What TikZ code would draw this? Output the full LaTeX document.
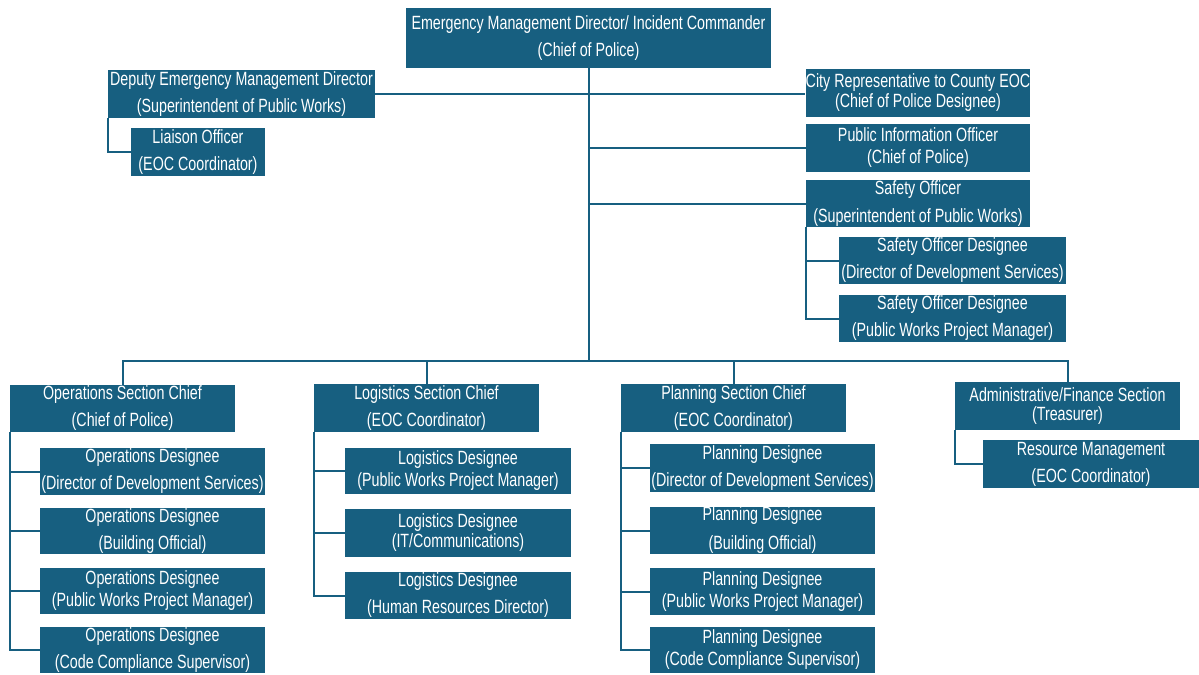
\documentclass[tikz,border=0pt]{standalone}
\usepackage{fontspec}
\setmainfont[FakeStretch=0.745]{Liberation Sans}
\usepackage{xcolor}
\usepackage{tikz}
\usetikzlibrary{positioning,calc}

\definecolor{eocblue}{HTML}{175F80}

\begin{document}
\begin{tikzpicture}[x=0.6pt, y=-0.6pt,
  box/.style 2 args={fill=eocblue, text=white, align=center, inner sep=0pt,
    minimum width=#1*0.6pt, minimum height=#2*0.6pt,
    font=\fontsize{11.5}{12}\selectfont},
  link/.style={draw=eocblue, line width=1.2pt}]
  \useasboundingbox (0,0) rectangle (1199,675);

  % Command staff
  \node[box={365}{60}] (emd) at (588.5,38)
    {Emergency Management Director/ Incident Commander\\[4.2pt](Chief of Police)};
  \node[box={267}{48}] (dep) at (241.5,94)
    {Deputy Emergency Management Director\\[4.2pt](Superintendent of Public Works)};
  \node[box={134}{48}] (lia) at (198,152)
    {Liaison Officer\\[4.2pt](EOC Coordinator)};
  \node[box={224}{48}] (city) at (918,93)
    {City Representative to County EOC\\[0pt](Chief of Police Designee)};
  \node[box={224}{48}] (pio) at (918,148)
    {Public Information Officer\\[1.2pt](Chief of Police)};
  \node[box={224}{47}] (so) at (918,203.5)
    {Safety Officer\\[4.8pt](Superintendent of Public Works)};
  \node[box={227}{47}] (sod1) at (952.5,260.5)
    {Safety Officer Designee\\[4.2pt](Director of Development Services)};
  \node[box={227}{47}] (sod2) at (952.5,318.5)
    {Safety Officer Designee\\[4.2pt](Public Works Project Manager)};

  % Sections
  \node[box={225}{47}] (ops) at (122.5,408.5)
    {Operations Section Chief\\[4.2pt](Chief of Police)};
  \node[box={225}{48}] (log) at (426.5,408)
    {Logistics Section Chief\\[4.2pt](EOC Coordinator)};
  \node[box={225}{48}] (plan) at (733.5,408)
    {Planning Section Chief\\[4.2pt](EOC Coordinator)};
  \node[box={225}{48}] (adm) at (1067.5,406)
    {Administrative/Finance Section\\[-0.6pt](Treasurer)};

  % Operations designees
  \node[box={225}{47}] (od1) at (152.5,471.5)
    {Operations Designee\\[4.2pt](Director of Development Services)};
  \node[box={225}{46}] (od2) at (152.5,531)
    {Operations Designee\\[4.2pt](Building Official)};
  \node[box={225}{46}] (od3) at (152.5,591)
    {Operations Designee\\[1.2pt](Public Works Project Manager)};
  \node[box={225}{46}] (od4) at (152.5,650)
    {Operations Designee\\[4.2pt](Code Compliance Supervisor)};

  % Logistics designees
  \node[box={226}{46}] (ld1) at (458,471)
    {Logistics Designee\\[1.2pt](Public Works Project Manager)};
  \node[box={226}{48}] (ld2) at (458,533)
    {Logistics Designee\\[0pt](IT/Communications)};
  \node[box={226}{47}] (ld3) at (458,595.5)
    {Logistics Designee\\[4.2pt](Human Resources Director)};

  % Planning designees
  \node[box={225}{48}] (pd1) at (762.5,468)
    {Planning Designee\\[4.2pt](Director of Development Services)};
  \node[box={225}{47}] (pd2) at (762.5,530.5)
    {Planning Designee\\[5.4pt](Building Official)};
  \node[box={225}{47}] (pd3) at (762.5,591.5)
    {Planning Designee\\[1.2pt](Public Works Project Manager)};
  \node[box={225}{46}] (pd4) at (762.5,650)
    {Planning Designee\\[1.2pt](Code Compliance Supervisor)};

  % Admin / finance
  \node[box={216}{48}] (rm) at (1091,464)
    {Resource Management\\[4.2pt](EOC Coordinator)};

  % Connectors
  \coordinate (bus) at (588.5,361);
  \draw[link] (emd.south) -- (bus);
  \draw[link] (dep.east) -- (dep.east -| city.west);
  \draw[link] (pio.west) -- (pio.west -| emd.south);
  \draw[link] (so.west) -- (so.west -| emd.south);
  \draw[link] (dep.south west) |- (lia.west);
  \draw[link] (so.south west) |- (sod1.west);
  \draw[link] (so.south west) |- (sod2.west);

  \draw[link] (ops.north) |- (bus) -| (adm.north);
  \draw[link] (log.north) -- (log.north |- bus);
  \draw[link] (plan.north) -- (plan.north |- bus);

  \foreach \n in {od1,od2,od3,od4}
    \draw[link] (ops.south west) |- (\n.west);
  \foreach \n in {ld1,ld2,ld3}
    \draw[link] (log.south west) |- (\n.west);
  \foreach \n in {pd1,pd2,pd3,pd4}
    \draw[link] (plan.south west) |- (\n.west);
  \draw[link] (adm.south west) |- (rm.west);
\end{tikzpicture}
\end{document}
